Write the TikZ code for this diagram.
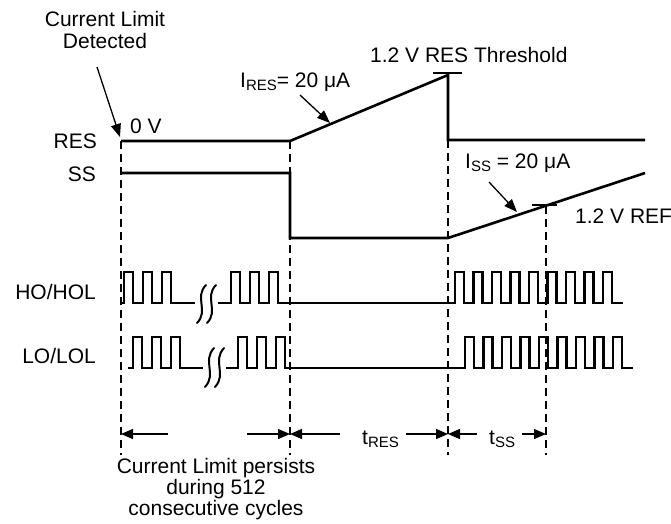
\documentclass[tikz,border=0pt]{standalone}
\usepackage{fontspec}
\setmainfont{Liberation Sans}
\usetikzlibrary{arrows.meta}
\newcommand{\lowsub}[1]{\raisebox{-3pt}{\fontsize{15}{15}\selectfont #1}}
\begin{document}
\begin{tikzpicture}[x=1pt, y=-1pt, line join=miter,
    font=\fontsize{21}{22}\selectfont,
    sig/.style={line width=2.6pt},
    brk/.style={line width=2pt, line cap=round},
    marker/.style={line width=1.1pt, dash pattern=on 8pt off 5pt},
    dim/.style={line width=1.3pt, -{Triangle[length=12pt, width=10pt]}},
    callout/.style={line width=1.3pt, -{Triangle[length=13pt, width=10pt]}},
    tick/.style={line width=1.3pt},
    lbl/.style={inner sep=0pt}]
  \useasboundingbox (0,0) rectangle (671,523);
  % Signal names
  \node [lbl, anchor=east] (lbl-res) at (97,141) {RES};
  \node [lbl, anchor=east] (lbl-ss) at (96,174) {SS};
  \node [lbl, anchor=east] (lbl-ho) at (96,292) {HO/HOL};
  \node [lbl, anchor=east] (lbl-lo) at (96,356) {LO/LOL};
  % Time markers
  \foreach \x/\y [count=\i] in {121/141, 290/141, 448/140, 546/206} {
    \coordinate (top-\i) at (\x,\y);
    \coordinate (bot-\i) at (\x,455);
    \coordinate (dim-\i) at (\x,434);
    \draw [marker] (top-\i) -- (bot-\i);
  }
  % RES signal
  \draw [sig] (121,141) -- (290,141) -- (448,75) -- (448,140) -- (645,140);
  % SS signal
  \draw [sig] (121,173) -- (290,173) -- (290,238) -- (448,238) -- (645,173);
  % HO/HOL pulses
  \draw [sig] (121,303) -- (124,303)
    foreach \k in {1,2,3} { -- ++(0,-31) -- ++(9,0) -- ++(0,31) -- ++(10,0) } -- (195,303);
  \draw [sig] (218,303) -- (231,303)
    foreach \k in {1,2,3} { -- ++(0,-31) -- ++(9,0) -- ++(0,31) -- ++(10,0) } -- (455,303)
    foreach \k in {1,...,9} { -- ++(0,-31) -- ++(9,0) -- ++(0,31) -- ++(9.5,0) } -- (623,303);
  % LO/LOL pulses
  \draw [sig] (128,368) -- (133,368)
    foreach \k in {1,2,3} { -- ++(0,-31) -- ++(9,0) -- ++(0,31) -- ++(10,0) } -- (203,368);
  \draw [sig] (226,368) -- (238,368)
    foreach \k in {1,2,3} { -- ++(0,-31) -- ++(9,0) -- ++(0,31) -- ++(10,0) } -- (465,368)
    foreach \k in {1,...,9} { -- ++(0,-31) -- ++(9,0) -- ++(0,31) -- ++(9.5,0) } -- (633,368);
  % Breaks
  \foreach \a in {197, 207}
    \draw [brk] (\a+9,285) .. controls (\a-3,297) and (\a+12,311) .. (\a,323);
  \foreach \a in {205, 215}
    \draw [brk] (\a+9,348) .. controls (\a-3,361) and (\a+12,374) .. (\a,387);
  % Thresholds
  \draw [tick] (433,73) -- (462,73);
  \draw [tick] (532,205) -- (557,205);
  % Labels
  \node [lbl, align=center] (lbl-detect) at (105,30) {Current Limit\\Detected};
  \node [lbl, anchor=west] (lbl-0v) at (130,126) {0 V};
  \node [lbl, anchor=west] (lbl-ires) at (240,82) {I\lowsub{RES}= 20 μA};
  \node [lbl, anchor=west] (lbl-thr) at (370,55) {1.2 V RES Threshold};
  \node [lbl, anchor=west] (lbl-iss) at (465,163) {I\lowsub{SS} = 20 μA};
  \node [lbl, anchor=west] (lbl-ref) at (575,216) {1.2 V REF};
  % Callouts
  \coordinate (detect-from) at (97,67);
  \coordinate (detect-to) at (120,137);
  \coordinate (ires-from) at (300,95);
  \coordinate (ires-to) at (330,123);
  \coordinate (iss-from) at (489,182);
  \coordinate (iss-to) at (517,212);
  \draw [callout] (detect-from) -- (detect-to);
  \draw [callout] (ires-from) -- (ires-to);
  \draw [callout] (iss-from) -- (iss-to);
  % Durations
  \node [lbl, anchor=base west] (lbl-tres) at (362,444) {t\lowsub{RES}};
  \node [lbl, anchor=base west] (lbl-tss) at (489,444) {t\lowsub{SS}};
  \coordinate (cyc-l) at (168,434);
  \coordinate (cyc-r) at (247,434);
  \coordinate (res-l) at (340,434);
  \coordinate (res-r) at (406,434);
  \coordinate (ss-l) at (477,434);
  \coordinate (ss-r) at (522,434);
  \draw [dim] (cyc-l) -- (dim-1);
  \draw [dim] (cyc-r) -- (dim-2);
  \draw [dim] (res-l) -- (dim-2);
  \draw [dim] (res-r) -- (dim-3);
  \draw [dim] (ss-l) -- (dim-3);
  \draw [dim] (ss-r) -- (dim-4);
  \node [lbl, align=center, font=\fontsize{21}{21}\selectfont] (lbl-cycles) at (216,489)
    {Current Limit persists\\during 512\\consecutive cycles};
\end{tikzpicture}
\end{document}
